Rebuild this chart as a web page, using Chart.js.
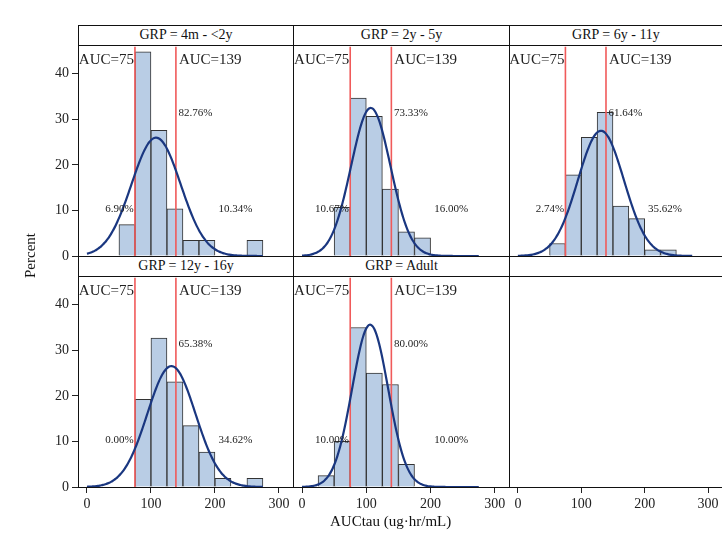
<html>
<head>
<script src="https://cdn.jsdelivr.net/npm/chart.js@4.4.0/dist/chart.umd.min.js"></script>
<style>
  body { margin: 0; background: #fff; font-family: "Liberation Serif", serif; }
  #wrap { position: relative; width: 722px; height: 550px; overflow: hidden; }
  canvas { position: absolute; }
  .frame { position: absolute; border: 1.5px solid #111; box-sizing: border-box; pointer-events: none; }
  .head { position: absolute; border: 1.5px solid #111; box-sizing: border-box; text-align: center;
          font-size: 14px; line-height: 17px; color: #111; background: #fff; }
  .lab { position: absolute; font-size: 14px; color: #111; }
</style>
</head>
<body>
<div id="wrap"></div>
<script>
// groups and histogram bins (bin start, width 25)
const groups = ['GRP = 4m - <2y', 'GRP = 2y - 5y', 'GRP = 6y - 11y', 'GRP = 12y - 16y', 'GRP = Adult'];
const binStarts1 = [50, 75, 100, 125, 150, 175, 250];
const percent1   = [6.90, 44.83, 27.59, 10.34, 3.45, 3.45, 3.45];
const binStarts2 = [50, 75, 100, 125, 150, 175];
const percent2   = [10.67, 34.67, 30.67, 14.67, 5.33, 4.00];
const binStarts3 = [50, 75, 100, 125, 150, 175, 200, 225];
const percent3   = [2.74, 17.81, 26.03, 31.51, 10.96, 8.22, 1.37, 1.37];
const binStarts4 = [75, 100, 125, 150, 175, 200, 250];
const percent4   = [19.23, 32.69, 23.08, 13.46, 7.69, 1.92, 1.92];
const binStarts5 = [25, 50, 75, 100, 125, 150];
const percent5   = [2.5, 10.0, 35.0, 25.0, 22.5, 5.0];
// fitted normal curve parameters
const fitMean = [108, 107, 131, 132, 106];
const fitSd   = [38.4, 30.7, 36.3, 37.6, 28.0];
// percent labels: below 75, between, above 139
const pctLow  = ['6.90%', '10.67%', '2.74%', '0.00%', '10.00%'];
const pctMid  = ['82.76%', '73.33%', '61.64%', '65.38%', '80.00%'];
const pctHigh = ['10.34%', '16.00%', '35.62%', '34.62%', '10.00%'];
const cutLow = 75, cutHigh = 139;
const xTicks = [0, 100, 200, 300];
const yTicks = [0, 10, 20, 30, 40];

const binsAll = [binStarts1, binStarts2, binStarts3, binStarts4, binStarts5];
const pctAll = [percent1, percent2, percent3, percent4, percent5];

const colL = [78, 293, 509], colW = [215, 216, 213];
const rowT = [45, 276], H = 211, headH = 20;
const wrap = document.getElementById('wrap');
const SERIF = '"Liberation Serif", serif';

const textPlugin = {
  id: 'panelText',
  afterDatasetsDraw(chart, args, o) {
    if (o.idx == null) return;
    const {ctx, scales: {x, y}} = chart;
    ctx.save();
    ctx.fillStyle = '#222';
    ctx.textBaseline = 'middle';
    ctx.font = '15px ' + SERIF;
    ctx.textAlign = 'right';
    ctx.fillText('AUC=' + cutLow, x.getPixelForValue(cutLow) - 1, y.getPixelForValue(43));
    ctx.textAlign = 'left';
    ctx.fillText('AUC=' + cutHigh, x.getPixelForValue(cutHigh) + 3, y.getPixelForValue(43));
    ctx.font = '11px ' + SERIF;
    ctx.textAlign = 'right';
    ctx.fillText(pctLow[o.idx], x.getPixelForValue(73), y.getPixelForValue(10.3));
    ctx.textAlign = 'left';
    ctx.fillText(pctMid[o.idx], x.getPixelForValue(143), y.getPixelForValue(31.3));
    ctx.textAlign = 'center';
    ctx.fillText(pctHigh[o.idx], x.getPixelForValue(232), y.getPixelForValue(10.3));
    ctx.restore();
  }
};

function makePanel(idx, col, row, showY, showX) {
  const L = colL[col], T = rowT[row], W = colW[col];
  const c = document.createElement('canvas');
  c.style.left = (L - 50) + 'px'; c.style.top = (T - 10) + 'px';
  c.style.width = (W + 60) + 'px'; c.style.height = (H + 55) + 'px';
  c.width = W + 60; c.height = H + 55;
  wrap.appendChild(c);
  const datasets = [];
  if (idx != null) {
    datasets.push({
      type: 'bar',
      data: binsAll[idx].map((b, i) => ({x: b + 12.5, y: pctAll[idx][i]})),
      backgroundColor: '#b9cde5', borderColor: '#333', borderWidth: 1,
      barPercentage: 1, categoryPercentage: 1, order: 3
    });
    const curve = [];
    for (let v = 0; v <= 275; v += 2.5) {
      const z = (v - fitMean[idx]) / fitSd[idx];
      curve.push({x: v, y: 100 * 25 * Math.exp(-z * z / 2) / (fitSd[idx] * Math.sqrt(2 * Math.PI))});
    }
    datasets.push({type: 'line', data: curve, borderColor: '#1a3780', borderWidth: 2.2,
      pointRadius: 0, tension: 0.3, order: 1});
    [cutLow, cutHigh].forEach(v => datasets.push({type: 'line',
      data: [{x: v, y: 0}, {x: v, y: 46}], borderColor: '#f05a5a', borderWidth: 1.6,
      pointRadius: 0, order: 2}));
  }
  const tickStyle = (show) => ({
    color: show ? '#222' : 'rgba(0,0,0,0)', font: {family: SERIF, size: 14}, padding: 3
  });
  new Chart(c, {
    data: {datasets},
    plugins: [textPlugin],
    options: {
      responsive: false, animation: false,
      layout: {padding: {top: 10, right: 10}},
      plugins: {legend: {display: false}, tooltip: {enabled: false}, panelText: {idx}},
      scales: {
        x: {type: 'linear', min: -14, max: 322, offset: false,
          afterBuildTicks: a => { a.ticks = xTicks.map(v => ({value: v})); },
          afterFit: a => { a.height = 45; },
          ticks: tickStyle(showX),
          border: {display: false},
          grid: {offset: false, drawOnChartArea: false, tickLength: 6, tickColor: showX ? '#222' : 'rgba(0,0,0,0)'}},
        y: {min: 0, max: 46,
          afterBuildTicks: a => { a.ticks = yTicks.map(v => ({value: v})); },
          afterFit: a => { a.width = 50; },
          ticks: tickStyle(showY),
          border: {display: false},
          grid: {drawOnChartArea: false, tickLength: 6, tickColor: showY ? '#222' : 'rgba(0,0,0,0)'}}
      }
    }
  });
  const f = document.createElement('div');
  f.className = 'frame';
  Object.assign(f.style, {left: L + 'px', top: T + 'px', width: (W + 1) + 'px', height: (H + 1) + 'px'});
  wrap.appendChild(f);
  if (idx != null) {
    const h = document.createElement('div');
    h.className = 'head';
    h.textContent = groups[idx];
    Object.assign(h.style, {left: L + 'px', top: (T - headH) + 'px', width: (W + 1) + 'px', height: (headH + 1) + 'px'});
    wrap.appendChild(h);
  }
}

makePanel(0, 0, 0, true, false);
makePanel(1, 1, 0, false, false);
makePanel(2, 2, 0, false, false);
makePanel(3, 0, 1, true, true);
makePanel(4, 1, 1, false, true);
makePanel(null, 2, 1, false, true);

const xl = document.createElement('div');
xl.className = 'lab'; xl.textContent = 'AUCtau (ug\u00b7hr/mL)';
Object.assign(xl.style, {left: '330px', top: '513px', fontSize: '15px'});
wrap.appendChild(xl);
const yl = document.createElement('div');
yl.className = 'lab'; yl.textContent = 'Percent';
Object.assign(yl.style, {left: '8px', top: '247px', fontSize: '15px', transform: 'rotate(-90deg)'});
wrap.appendChild(yl);
</script>
</body>
</html>
